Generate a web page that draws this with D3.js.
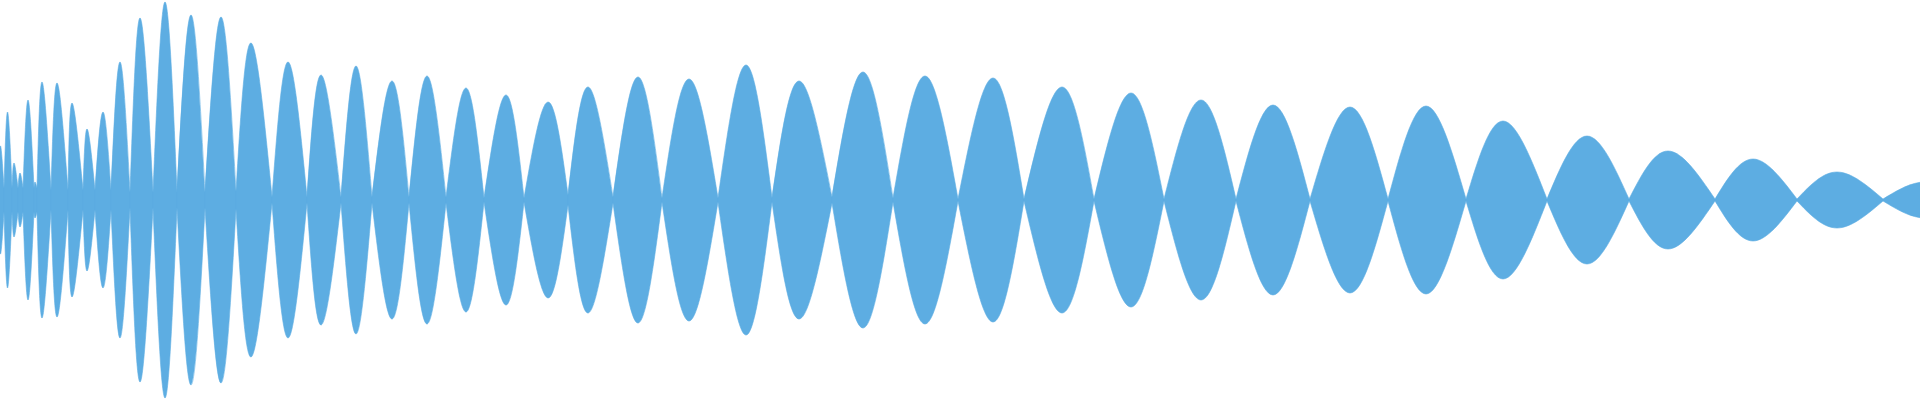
<!DOCTYPE html>
<html>
<head>
<meta charset="utf-8">
<script src="https://cdn.jsdelivr.net/npm/d3@7"></script>
<style>
  html, body { margin: 0; padding: 0; background: #ffffff; overflow: hidden; }
  svg { display: block; }
</style>
</head>
<body>
<svg id="chart" width="1920" height="400"></svg>
<script>
// Zero crossings of the waveform (sample position) and the residual amplitude at each crossing
const crossings = [-1, 4, 12, 18, 23, 34, 37, 51, 68, 83, 95, 111, 130, 153, 177, 205, 236, 272, 307, 341,
  372, 409, 446, 484, 524, 568, 613, 662, 718, 772, 832, 893, 958, 1024, 1094, 1164, 1236, 1310, 1388,
  1466, 1547, 1629, 1715, 1797, 1883, 1967];
const crossingAmps = [45, 12, 12, 12, 12, 12, 12, 10, 10, 10, 10, 10, 8, 8, 8, 8, 9, 3, 3, 3,
  3, 3, 3, 2, 2, 5, 3, 2, 2, 2, 3, 2, 1, 1, 1, 1, 1, 1, 1,
  1, 1, 1, 1, 1, 1, 1];
// Peak position and peak amplitude of each lobe (between consecutive crossings)
const peakPos = [1, 7.5, 14, 20, 28, 35, 42, 57, 72, 87, 103, 120, 140, 165, 191, 221, 251, 288, 321,
  356, 392, 427, 466, 506, 548, 588, 638, 689, 746, 799, 863, 925, 993, 1062, 1131, 1201, 1273, 1350,
  1426, 1503, 1587, 1668, 1753, 1837, 1925];
const peakAmps = [52, 88, 37, 27, 100, 18, 118, 117, 97, 71, 88, 138, 182, 198, 185, 183, 157, 138, 125,
  134, 119, 124, 112, 105, 98, 113, 123, 121, 135, 119, 128, 124, 122, 113, 107, 100, 95, 93,
  94, 79, 64, 49, 41, 28, 18];

const width = 1920, height = 400;
const svg = d3.select("#chart");

const x = d3.scaleLinear().domain([0, 1920]).range([0, width]);
const y = d3.scaleLinear().domain([-200, 200]).range([height, 0]);

const lobes = peakPos.map((p, i) => [
  { t: crossings[i], v: crossingAmps[i] },
  { t: p, v: peakAmps[i] },
  { t: crossings[i + 1], v: crossingAmps[i + 1] }
]);

const area = d3.area()
  .x(d => x(d.t))
  .y0(d => y(-d.v))
  .y1(d => y(d.v))
  .curve(d3.curveNatural);

svg.append("g")
  .selectAll("path")
  .data(lobes)
  .join("path")
  .attr("d", area)
  .attr("fill", "#5dade2")
  .attr("stroke", "#5dade2")
  .attr("stroke-width", 0.6);
</script>
</body>
</html>
